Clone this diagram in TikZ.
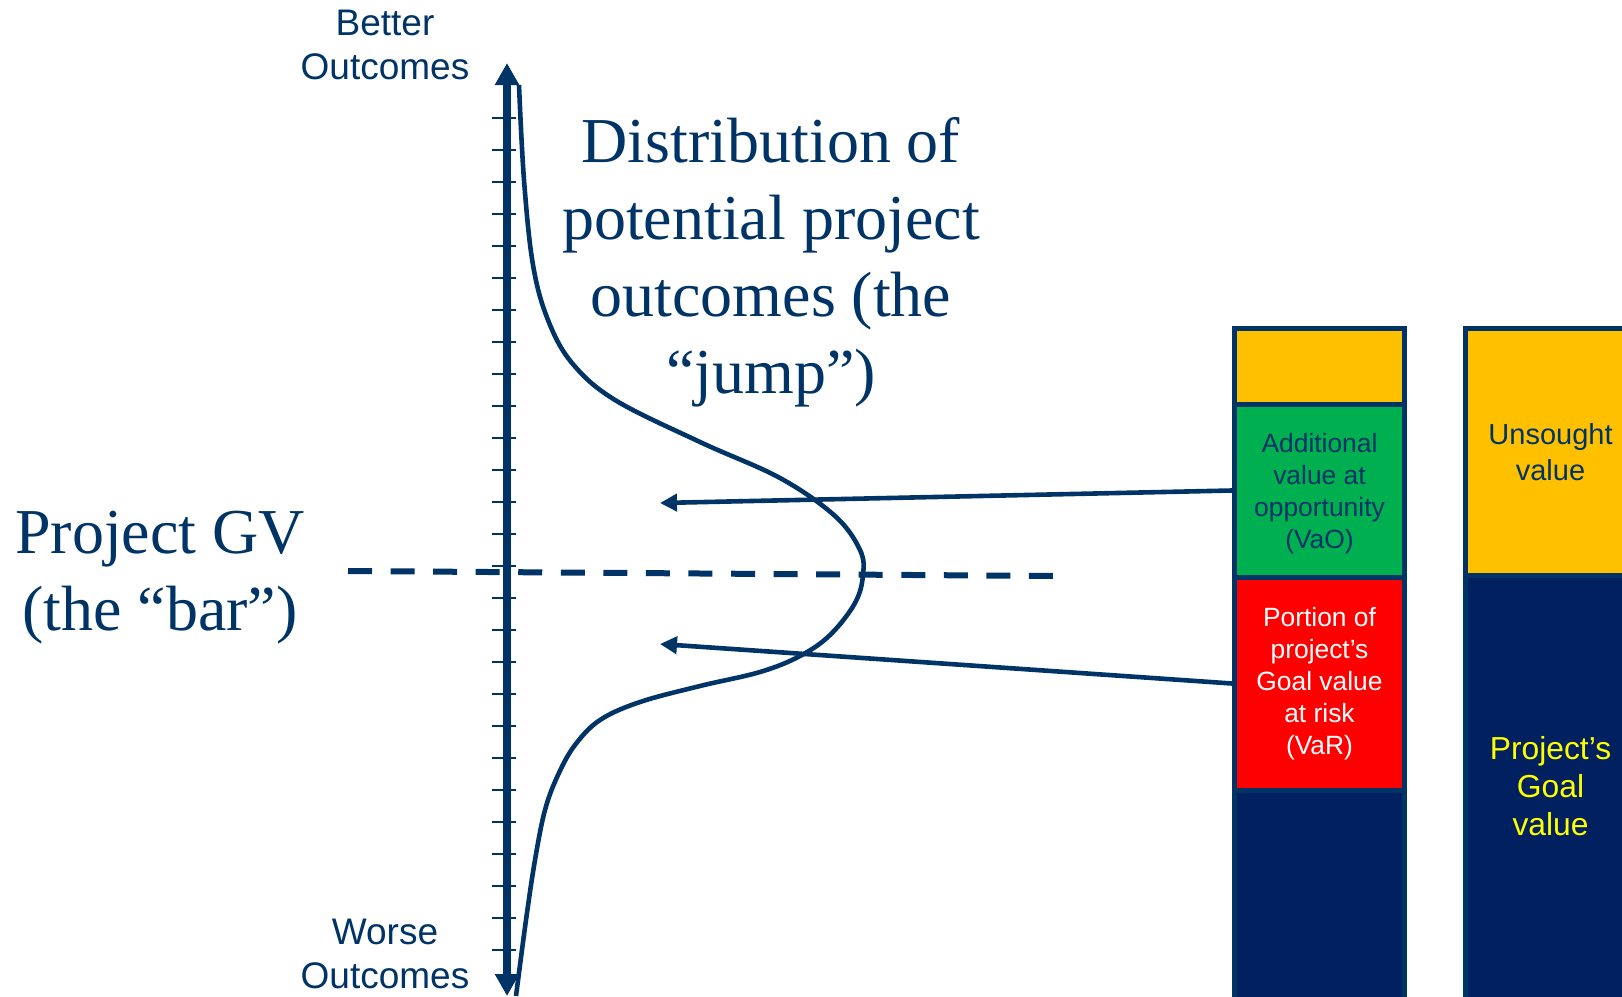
\documentclass[tikz,border=0pt]{standalone}
\usepackage{fontspec}
\setmainfont{Liberation Serif}
\setsansfont{Liberation Sans}
\usetikzlibrary{arrows.meta}
\definecolor{navyline}{RGB}{0,51,102}
\definecolor{navyfill}{RGB}{0,32,96}
\definecolor{gold}{RGB}{255,192,0}
\definecolor{vgreen}{RGB}{0,176,80}
\definecolor{vred}{RGB}{255,0,0}
\definecolor{vyellow}{RGB}{255,255,0}
\tikzset{
  seg/.style={draw=navyline, line width=2.5pt, inner sep=0pt, minimum width=85pt, align=center},
  smalltxt/.style={font=\sffamily\fontsize{13.2}{16}\selectfont},
  axislabel/.style={align=center, text=navyline, font=\sffamily\fontsize{18.5}{22}\selectfont},
  bigserif/.style={align=center, text=navyline, font=\rmfamily\fontsize{32}{38.5}\selectfont},
  axisline/.style={draw=navyline, line width=4pt, {Triangle[length=11pt,width=11.5pt]}-{Triangle[length=11pt,width=11.5pt]}},
  tickline/.style={draw=navyline, line width=1.1pt},
  curveline/.style={draw=navyline, line width=2.3pt},
  gvline/.style={draw=navyline, line width=3pt, dash pattern=on 12pt off 9.28pt},
  ptr/.style={draw=navyline, line width=2.3pt, -{Triangle[length=8.5pt,width=8.5pt]}}
}
\begin{document}
\begin{tikzpicture}[x=0.5pt,y=-0.5pt]
\useasboundingbox (0,0) rectangle (1622,996);
\clip (0,0) rectangle (1622,996);
\fill[white] (0,0) rectangle (1622,996);

% axis
\coordinate (axtop) at (507,63);
\coordinate (axbot) at (507,996);
\foreach \k in {0,...,26}
  \draw[tickline] (492,118+32*\k) -- (516,118+32*\k);
\draw[axisline] (axtop) -- (axbot);

% distribution curve
\draw[curveline] plot[smooth, tension=0.6] coordinates {
 (519,85) (524,180) (533,265) (548,320) (572,363) (615,400) (700,442)
 (780,478) (835,516) (860,550) (863,575) (855,603) (830,635) (800,656)
 (760,672) (700,686) (640,702) (600,720) (575,745) (558,775) (545,810)
 (535,860) (526,920) (516,996)};

% GV dashed line
\coordinate (gvL) at (348,571);
\coordinate (gvR) at (1054,576);
\draw[gvline] (gvL) -- (gvR);

% left bar
\node[seg, fill=gold, minimum height=37.75pt] (topy) at (1319.5,366.25) {};
\node[seg, fill=vgreen, minimum height=86.5pt] (vao) at (1319.5,490.5) {};
\node[smalltxt, align=center, text=navyline] (vaotxt) at (1319.5,493.5)
  {Additional\\value at\\opportunity\\(VaO)};
\node[seg, fill=vred, minimum height=106.5pt, smalltxt, text=white] (var) at (1319.5,683.5)
  {Portion of\\project’s\\Goal value\\at risk\\(VaR)};
\node[seg, fill=navyfill, minimum height=110pt] (basel) at (1319.5,900) {};

% right bar
\node[seg, fill=gold, minimum height=123.25pt, text=navyline,
      font=\sffamily\fontsize{14.5}{18}\selectfont] (uns) at (1550.5,451.75)
  {Unsought\\value};
\node[seg, fill=navyfill, minimum height=217.5pt] (goal) at (1550.5,792.5) {};
\node[align=center, text=vyellow, font=\sffamily\fontsize{15.9}{19}\selectfont] (goaltxt) at (1550.5,786)
  {Project’s\\Goal\\value};

% pointers
\coordinate (vaotip) at (660,503);
\coordinate (vartip) at (660,644);
\draw[ptr] (vao.west) -- (vaotip);
\draw[ptr] (var.west) -- (vartip);

% labels
\node[axislabel] (better) at (385,45) {Better\\Outcomes};
\node[axislabel] (worse) at (385,954) {Worse\\Outcomes};
\node[bigserif] (dist) at (771,262) {Distribution of\\potential project\\outcomes (the\\“jump”)};
\node[bigserif] (gv) at (160,578) {Project GV\\(the “bar”)};
\end{tikzpicture}
\end{document}
